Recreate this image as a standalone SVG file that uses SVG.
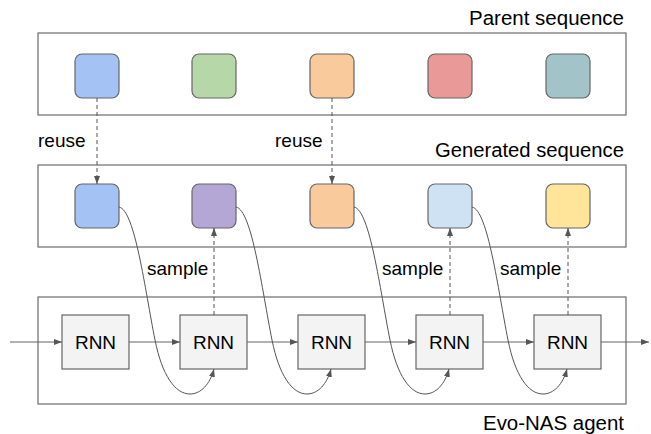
<svg xmlns="http://www.w3.org/2000/svg" width="651" height="434" viewBox="0 0 651 434">
<style>
  .frame{fill:none;stroke:#6b6b6b;stroke-width:1.2}
  .sq{stroke:#666;stroke-width:1.2}
  .rnn rect{fill:#f3f3f3;stroke:#666;stroke-width:1.2}
  .t{font-family:"Liberation Sans",Arial,sans-serif;font-size:19px;fill:#000}
  .title{font-family:"Liberation Sans",Arial,sans-serif;font-size:20px;fill:#000}
  .dash{fill:none;stroke:#555;stroke-width:1;stroke-dasharray:4,3}
  .solid{fill:none;stroke:#666;stroke-width:1.2}
  .curve{fill:none;stroke:#555;stroke-width:1}
</style>
<defs>
  <marker id="ah" viewBox="0 0 8 6" refX="8" refY="3" markerWidth="8" markerHeight="6" markerUnits="userSpaceOnUse" orient="auto">
    <path d="M0,0 L8,3 L0,6 z" fill="#555"/>
  </marker>
</defs>
<rect width="651" height="434" fill="#fff"/>

<g id="parent-frame">
  <rect class="frame" x="38" y="33" width="588" height="82"/>
  <text class="title" x="624" y="25" text-anchor="end" textLength="155" lengthAdjust="spacingAndGlyphs">Parent sequence</text>
</g>
<g id="generated-frame">
  <rect class="frame" x="38" y="165" width="588" height="82"/>
  <text class="title" x="624" y="157" text-anchor="end" textLength="189" lengthAdjust="spacingAndGlyphs">Generated sequence</text>
</g>
<g id="agent-frame">
  <rect class="frame" x="38" y="297" width="588" height="107"/>
  <text class="title" x="624" y="430" text-anchor="end" textLength="141" lengthAdjust="spacingAndGlyphs">Evo-NAS agent</text>
</g>

<g id="p1"><rect class="sq" x="75" y="54" width="44" height="44" rx="7" fill="#a4c2f4"/></g>
<g id="p2"><rect class="sq" x="192" y="54" width="44" height="44" rx="7" fill="#b6d7a8"/></g>
<g id="p3"><rect class="sq" x="310" y="54" width="44" height="44" rx="7" fill="#f9cb9c"/></g>
<g id="p4"><rect class="sq" x="428" y="54" width="44" height="44" rx="7" fill="#ea9999"/></g>
<g id="p5"><rect class="sq" x="546" y="54" width="44" height="44" rx="7" fill="#a2c4c9"/></g>

<g id="g1"><rect class="sq" x="75" y="184" width="44" height="44" rx="7" fill="#a4c2f4"/></g>
<g id="g2"><rect class="sq" x="192" y="184" width="44" height="44" rx="7" fill="#b4a7d6"/></g>
<g id="g3"><rect class="sq" x="310" y="184" width="44" height="44" rx="7" fill="#f9cb9c"/></g>
<g id="g4"><rect class="sq" x="428" y="184" width="44" height="44" rx="7" fill="#cfe2f3"/></g>
<g id="g5"><rect class="sq" x="546" y="184" width="44" height="44" rx="7" fill="#ffe599"/></g>

<g id="r1" class="rnn"><rect x="62" y="315" width="67" height="54"/><text class="t" x="95.5" y="348.5" text-anchor="middle">RNN</text></g>
<g id="r2" class="rnn"><rect x="180" y="315" width="67" height="54"/><text class="t" x="213.5" y="348.5" text-anchor="middle">RNN</text></g>
<g id="r3" class="rnn"><rect x="298" y="315" width="67" height="54"/><text class="t" x="331.5" y="348.5" text-anchor="middle">RNN</text></g>
<g id="r4" class="rnn"><rect x="416" y="315" width="67" height="54"/><text class="t" x="449.5" y="348.5" text-anchor="middle">RNN</text></g>
<g id="r5" class="rnn"><rect x="534" y="315" width="67" height="54"/><text class="t" x="567.5" y="348.5" text-anchor="middle">RNN</text></g>

<g id="connectors">
  <line class="dash" x1="97" y1="98" x2="97" y2="184" marker-end="url(#ah)"/>
  <line class="dash" x1="332" y1="98" x2="332" y2="184" marker-end="url(#ah)"/>
  <text class="t" x="38" y="147">reuse</text>
  <text class="t" x="275" y="147">reuse</text>

  <line class="dash" x1="214" y1="315" x2="214" y2="228" marker-end="url(#ah)"/>
  <line class="dash" x1="450" y1="315" x2="450" y2="228" marker-end="url(#ah)"/>
  <line class="dash" x1="568" y1="315" x2="568" y2="228" marker-end="url(#ah)"/>
  <text class="t" x="147" y="275">sample</text>
  <text class="t" x="382" y="275">sample</text>
  <text class="t" x="500" y="275">sample</text>

  <line class="solid" x1="10" y1="342" x2="62" y2="342" marker-end="url(#ah)"/>
  <line class="solid" x1="129" y1="342" x2="180" y2="342" marker-end="url(#ah)"/>
  <line class="solid" x1="247" y1="342" x2="298" y2="342" marker-end="url(#ah)"/>
  <line class="solid" x1="365" y1="342" x2="416" y2="342" marker-end="url(#ah)"/>
  <line class="solid" x1="483" y1="342" x2="534" y2="342" marker-end="url(#ah)"/>
  <line class="solid" x1="601" y1="342" x2="649" y2="342" marker-end="url(#ah)"/>

  <path class="curve" d="M119,207 C135,210 145,290 155,340 C162,375 175,394 190,394 C201,394 210,384 214,369" marker-end="url(#ah)"/>
  <path class="curve" d="M236,207 C252,210 262,290 272,340 C279,375 292,394 307,394 C318,394 327,384 331,369" marker-end="url(#ah)"/>
  <path class="curve" d="M354,207 C370,210 380,290 390,340 C397,375 410,394 425,394 C436,394 445,384 449,369" marker-end="url(#ah)"/>
  <path class="curve" d="M472,207 C488,210 498,290 508,340 C515,375 528,394 543,394 C554,394 563,384 567,369" marker-end="url(#ah)"/>
</g>
</svg>
